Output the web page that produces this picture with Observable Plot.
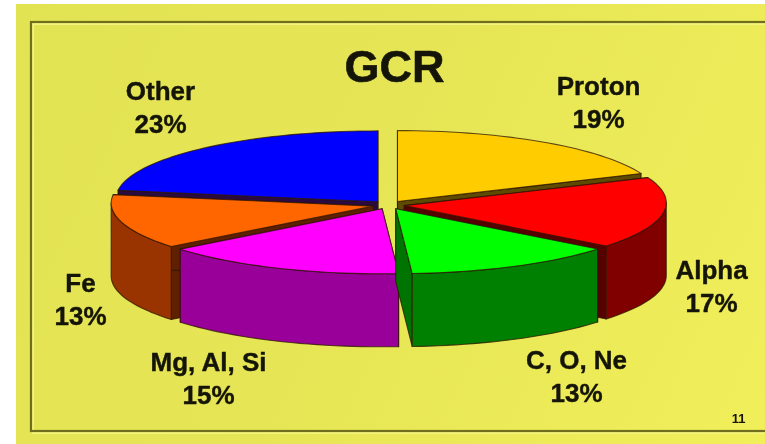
<!DOCTYPE html>
<html>
<head>
<meta charset="utf-8">
<script src="https://cdn.jsdelivr.net/npm/d3@7"></script>
<script src="https://cdn.jsdelivr.net/npm/@observablehq/plot@0.6"></script>
<style>html,body{margin:0;padding:0;background:#fff;overflow:hidden}</style>
</head>
<body>
<div id="chart"></div>
<script>
// Data, clockwise from twelve o'clock
const species = ["Proton", "Alpha", "C, O, Ne", "Mg, Al, Si", "Fe", "Other"];
const percent = [19, 17, 13, 15, 13, 23];
const title = "GCR";
const pageNumber = "11";

// Styles
const topColors = ["#FFCC00", "#FF0000", "#00FF00", "#FF00FF", "#FF6600", "#0000FF"];
const rimColors = ["#997A00", "#800000", "#008000", "#990099", "#993300", "#000099"];
const wallColors = ["#5E4A00", "#560000", "#007400", "#700070", "#5E2000", "#2A0A40"];
const paintOrder = [5, 0, 1, 4, 3, 2];

// Pie projection (in chart units)
const centre = [388, 201.5], rx = 262, ry = 68, depth = 73, explode = 0.061, apexDrop = 3;
const labelAt = [[598, 100.5], [711, 284], [576, 374], [208, 376], [80, 297], [160, 105]];

const project = (deg, r, ox, oy, drop = 0) => {
  const a = deg * Math.PI / 180;
  return [ox + r * rx * Math.sin(a), oy - r * ry * Math.cos(a) + drop];
};
const arc = (a, b) => {
  const n = Math.max(2, Math.ceil(Math.abs(b - a) / 2));
  return d3.range(n + 1).map(i => a + (b - a) * i / n);
};

const faces = [];
let id = 0;
const addFace = (pts, fill) => {
  id++;
  for (const [x, y] of pts) faces.push({id, x, y, fill});
};
let cum = 0;
const slices = percent.map(v => {
  const a = cum * 3.6; cum += v; return {a, b: cum * 3.6};
});
for (const i of paintOrder) {
  const {a, b} = slices[i];
  const m = (a + b) / 2 * Math.PI / 180;
  const ox = centre[0] + explode * rx * Math.sin(m);
  const oy = centre[1] - explode * ry * Math.cos(m);
  const ay = oy + apexDrop;
  // cut walls
  for (const t of [a, b]) {
    const p = project(t, 1, ox, oy);
    addFace([[ox, ay], p, [p[0], p[1] + depth], [ox, ay + depth]], wallColors[i]);
  }
  // outer rim: only the front half of the ellipse can be seen
  const lo = Math.max(a, 90), hi = Math.min(b, 270);
  if (hi > lo) {
    const ts = arc(lo, hi);
    addFace([
      ...ts.map(t => project(t, 1, ox, oy)),
      ...ts.slice().reverse().map(t => project(t, 1, ox, oy, depth))
    ], rimColors[i]);
  }
  // top
  addFace([[ox, ay], ...arc(a, b).map(t => project(t, 1, ox, oy))], topColors[i]);
}

const labels = species.map((s, i) => ({
  text: `${s}\n${percent[i]}%`, x: labelAt[i][0], y: labelAt[i][1]
}));

const chart = Plot.plot({
  width: 765,
  height: 444,
  margin: 0,
  x: {domain: [0, 765], range: [0, 765], axis: null},
  y: {domain: [0, 444], range: [0, 444], axis: null},
  color: {type: "identity"},
  style: {
    background: "linear-gradient(115deg,#E2E353 0%,#E6E555 45%,#F1EF5A 100%) 16px 4px no-repeat",
    overflow: "hidden"
  },
  marks: [
    Plot.rect([0], {x1: 33, y1: 24, x2: 800, y2: 433, stroke: "#F4F37A", strokeWidth: 2, fill: "none"}),
    Plot.rect([0], {x1: 31, y1: 22, x2: 800, y2: 431, stroke: "#6E6E1C", strokeWidth: 2.2, fill: "none"}),
    Plot.line(faces, {
      x: "x", y: "y", z: "id", fill: "fill",
      stroke: "#2E1600", strokeWidth: 1.1, strokeOpacity: 0.75,
      curve: "linear-closed"
    }),
    Plot.text(labels, {
      x: "x", y: "y", text: "text", lineHeight: 1.28,
      fontFamily: "Liberation Sans", fontWeight: "bold", fontSize: 26, fill: "#141408",
      stroke: "#141408", strokeWidth: 0.4
    }),
    Plot.text([title], {
      x: () => 394, y: () => 67, text: d => d,
      fontFamily: "Liberation Sans", fontWeight: "bold", fontSize: 45, fill: "#141408",
      stroke: "#141408", strokeWidth: 0.6
    }),
    Plot.text([pageNumber], {
      x: () => 738, y: () => 418, text: d => d,
      fontFamily: "Liberation Sans", fontWeight: "bold", fontSize: 13, fill: "#141408"
    })
  ]
});
chart.style.display = "block";
chart.style.filter = "blur(0.4px)";
document.getElementById("chart").appendChild(chart);
</script>
</body>
</html>
